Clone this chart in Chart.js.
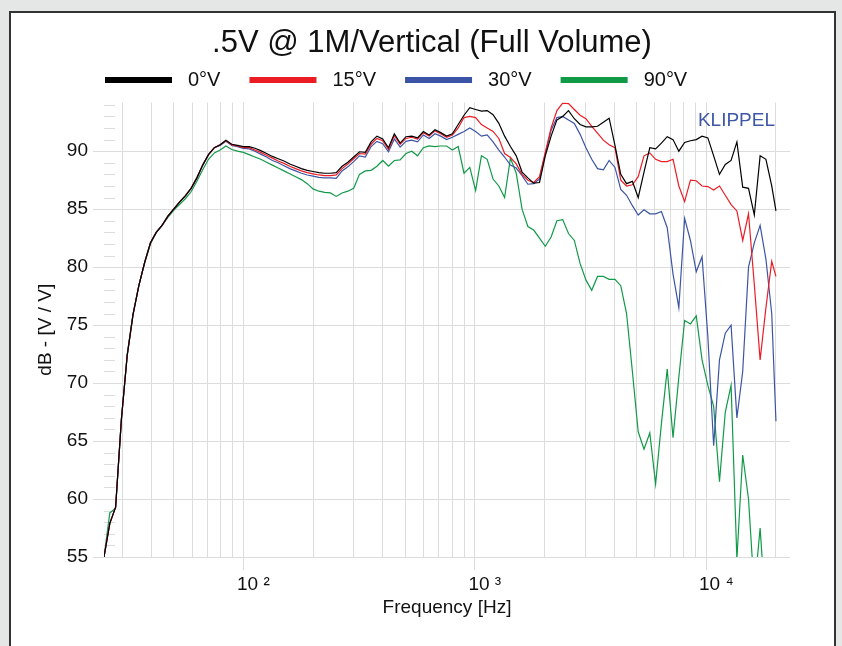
<!DOCTYPE html>
<html>
<head>
<meta charset="utf-8">
<script src="https://cdn.jsdelivr.net/npm/chart.js@4/dist/chart.umd.min.js"></script>
<style>
  html, body { margin: 0; padding: 0; }
  body { width: 842px; height: 646px; background: #e5e7e6; overflow: hidden; position: relative; }
  #frame { position: absolute; left: 9px; top: 11px; width: 823px; height: 660px; background: #fff; border: 2px solid #333; }
  #wrap { position: absolute; left: 0; top: 0; width: 842px; height: 646px; }
</style>
</head>
<body>
<div id="frame"></div>
<div id="wrap"><canvas id="fr-chart"></canvas></div>
<script>
// frequency points (Hz), 1/12 octave from 25 Hz
const freqs = [
  25.00, 26.49, 28.06, 29.73, 31.50, 33.37, 35.36, 37.46, 39.69, 42.04,
  44.55, 47.20, 50.00, 52.97, 56.12, 59.46, 63.00, 66.74, 70.71, 74.92,
  79.37, 84.09, 89.09, 94.39, 100.0, 105.9, 112.2, 118.9, 126.0, 133.5,
  141.4, 149.8, 158.7, 168.2, 178.2, 188.8, 200.0, 211.9, 224.5, 237.8,
  252.0, 267.0, 282.8, 299.7, 317.5, 336.4, 356.4, 377.6, 400.0, 423.8,
  449.0, 475.7, 504.0, 534.0, 565.7, 599.3, 635.0, 672.7, 712.7, 755.1,
  800.0, 847.6, 898.0, 951.4, 1008, 1068, 1131, 1199, 1270, 1345,
  1425, 1510, 1600, 1695, 1796, 1903, 2016, 2136, 2263, 2397,
  2540, 2691, 2851, 3020, 3200, 3390, 3592, 3805, 4032, 4271,
  4525, 4795, 5080, 5382, 5702, 6041, 6400, 6781, 7184, 7611,
  8063, 8543, 9051, 9589, 10159, 10763, 11404, 12082, 12800, 13561,
  14368, 15222, 16127, 17086, 18102, 19178, 20000
];

const resp0 = [
  55.0, 57.9, 59.3, 66.9, 72.4, 75.9, 78.4, 80.4, 82.1, 83.0,
  83.6, 84.4, 85.0, 85.6, 86.15, 86.8, 87.7, 88.8, 89.7, 90.3,
  90.55, 90.95, 90.6, 90.5, 90.4, 90.4, 90.25, 90.05, 89.8, 89.55,
  89.35, 89.15, 88.9, 88.7, 88.5, 88.35, 88.25, 88.15, 88.1, 88.1,
  88.15, 88.7, 89.05, 89.5, 89.95, 89.9, 90.8, 91.3, 91.05, 90.3,
  91.5, 90.7, 91.25, 91.3, 91.15, 91.7, 91.4, 91.85, 91.6, 91.3,
  91.5, 92.3, 93.1, 93.75, 93.6, 93.45, 93.5, 93.15, 92.4, 91.3,
  90.4, 89.6, 88.2, 87.7, 87.25, 87.3, 89.6, 91.3, 92.7, 93.0,
  93.5, 92.8, 92.3, 92.1, 92.1, 92.15, 92.5, 92.85, 90.5, 88.0,
  87.2, 87.4, 86.0, 88.2, 90.3, 90.2, 90.7, 91.25, 91.0, 90.0,
  90.75, 90.9, 91.0, 91.3, 91.15, 89.6, 88.0, 88.85, 89.2, 90.8,
  86.9, 86.8, 84.5, 89.6, 89.3, 87.0, 84.85
];

const resp15 = [
  55.0, 57.9, 59.3, 66.9, 72.4, 75.9, 78.4, 80.4, 82.1, 83.0,
  83.6, 84.4, 85.0, 85.6, 86.15, 86.8, 87.7, 88.8, 89.7, 90.3,
  90.55, 90.9, 90.55, 90.45, 90.3, 90.3, 90.1, 89.9, 89.65, 89.4,
  89.15, 88.95, 88.7, 88.5, 88.3, 88.15, 88.05, 87.95, 87.9, 87.9,
  87.95, 88.5, 88.9, 89.35, 89.8, 89.75, 90.6, 91.1, 90.9, 90.15,
  91.35, 90.6, 91.1, 91.2, 91.05, 91.6, 91.3, 91.75, 91.5, 91.2,
  91.4, 92.0, 92.9, 93.0, 92.9, 92.3, 92.0, 91.7, 91.1, 89.8,
  89.45, 88.9, 88.0, 87.5, 87.3, 87.8, 89.9, 92.0, 93.5, 94.15,
  94.1, 93.6, 93.1, 92.8, 92.15, 91.55, 90.95, 90.55, 90.3, 87.5,
  87.0, 87.1, 87.8, 89.6, 89.85, 89.3, 89.1, 89.1, 89.3, 87.0,
  85.65, 87.5, 87.45, 87.0, 86.95, 86.65, 87.0, 86.2, 85.4, 84.85,
  82.3, 84.6, 78.5, 72.0, 76.5, 80.5, 79.2
];

const resp30 = [
  55.0, 57.9, 59.3, 66.9, 72.4, 75.9, 78.4, 80.4, 82.1, 83.0,
  83.6, 84.4, 85.0, 85.6, 86.15, 86.8, 87.7, 88.8, 89.7, 90.3,
  90.5, 90.85, 90.5, 90.4, 90.25, 90.2, 90.0, 89.75, 89.5, 89.2,
  89.0, 88.75, 88.5, 88.3, 88.1, 87.95, 87.85, 87.75, 87.7, 87.7,
  87.65, 88.3, 88.65, 89.1, 89.6, 89.5, 90.4, 90.85, 90.65, 89.95,
  91.05, 90.35, 90.85, 90.95, 90.8, 91.4, 91.1, 91.5, 91.3, 91.0,
  91.2, 91.45, 91.7, 92.0, 91.7, 91.3, 91.4, 90.8, 90.1, 89.5,
  88.8, 88.55, 87.9, 87.15, 87.2, 87.6, 89.8, 91.8, 92.9, 93.0,
  92.7, 92.4, 91.45, 90.3, 89.3, 88.5, 88.4, 89.2, 88.6, 86.7,
  86.2, 85.3, 84.5, 84.95, 84.6, 84.6, 84.8, 83.4, 79.4, 76.5,
  84.2, 82.3, 79.6, 80.9, 74.0, 64.6, 72.0, 74.3, 75.0, 67.0,
  71.0, 80.0, 82.1, 83.6, 80.7, 76.0, 66.7
];

const resp90 = [
  55.0, 58.8, 59.2, 66.9, 72.5, 76.0, 78.4, 80.4, 82.0, 83.0,
  83.6, 84.3, 84.9, 85.4, 85.9, 86.5, 87.4, 88.4, 89.3, 89.85,
  90.1, 90.45, 90.15, 90.0, 89.9, 89.7, 89.5, 89.3, 89.05, 88.8,
  88.55, 88.3, 88.05, 87.8, 87.55, 87.2, 86.75, 86.55, 86.45, 86.4,
  86.1, 86.4, 86.55, 86.8, 88.0, 88.3, 88.35, 88.7, 89.2, 88.7,
  89.2, 89.25, 89.8, 90.0, 89.6, 90.3, 90.45, 90.4, 90.45, 90.45,
  90.1, 90.4, 88.1, 88.6, 86.6, 89.6, 89.3, 87.6, 87.0, 86.0,
  89.4, 88.1, 85.0, 83.5, 83.2, 82.5, 81.8, 82.6, 84.0, 84.1,
  82.9, 82.3, 80.3, 78.9, 78.0, 79.2, 79.2, 78.95, 78.95, 78.4,
  76.0, 71.0, 65.8, 64.3, 65.7, 61.3, 66.5, 71.2, 65.3, 70.5,
  75.4, 75.1, 75.8, 72.0, 69.8, 68.0, 61.5, 67.5, 69.8, 54.8,
  63.8, 60.0, 52.0, 57.5, 50.0, 48.0, 47.0
];

const seriesNames = ['0°V', '15°V', '30°V', '90°V'];
const seriesColors = ['#000000', '#ec1c24', '#3c54a5', '#109a48'];
const xGridTicks = [30, 40, 50, 60, 70, 80, 90, 100, 200, 300, 400, 500, 600, 700, 800, 900,
  1000, 2000, 3000, 4000, 5000, 6000, 7000, 8000, 9000, 10000, 20000];
const xTickLabels = {100: '10 ²', 1000: '10 ³', 10000: '10 ⁴'};
const yGridTicks = [55, 60, 65, 70, 75, 80, 85, 90];

const FONT = "'Liberation Sans', Arial, sans-serif";
Chart.defaults.font.family = FONT;
Chart.defaults.color = '#111';

function toPoints(values) {
  return freqs.map((f, i) => ({x: f, y: values[i]}));
}

const allSeries = [resp0, resp15, resp30, resp90];
const datasets = allSeries.map((vals, i) => ({
  label: seriesNames[i],
  data: toPoints(vals),
  borderColor: seriesColors[i],
  backgroundColor: seriesColors[i],
  borderWidth: 1.2,
  pointRadius: 0,
  tension: 0,
  yAxisID: 'y'
}));

// short minor ticks on the y axis, brand text and the legend row
const decorations = {
  id: 'decorations',
  beforeDatasetsDraw(chart) {
    const {ctx, chartArea, scales} = chart;
    const y = scales.y;
    ctx.save();
    ctx.strokeStyle = '#dcdcdc';
    ctx.lineWidth = 1;
    for (let v = 56; v < 95; v++) {
      if (v % 5 === 0) continue;
      const py = Math.round(y.getPixelForValue(v)) + 0.5;
      ctx.beginPath();
      ctx.moveTo(chartArea.left, py);
      ctx.lineTo(chartArea.left + 11, py);
      ctx.stroke();
    }
    ctx.fillStyle = '#3f57a6';
    ctx.font = '19px ' + FONT;
    ctx.textAlign = 'right';
    ctx.textBaseline = 'middle';
    ctx.fillText('KLIPPEL', chartArea.right - 15, chartArea.top + 18);
    ctx.restore();
  },
  afterDraw(chart) {
    const {ctx, chartArea} = chart;
    ctx.save();
    ctx.font = '20px ' + FONT;
    ctx.textBaseline = 'middle';
    ctx.textAlign = 'left';
    let x = chartArea.left + 1;
    const yMid = 80;
    chart.data.datasets.forEach(ds => {
      ctx.fillStyle = ds.borderColor;
      ctx.fillRect(x, yMid - 3, 67, 6);
      ctx.fillStyle = '#111';
      ctx.fillText(ds.label, x + 83, yMid);
      x += 83 + ctx.measureText(ds.label).width + 29;
    });
    ctx.restore();
  }
};

const canvas = document.getElementById('fr-chart').getContext('2d');
new Chart(canvas, {
  type: 'line',
  data: {datasets: datasets},
  options: {
    responsive: true,
    maintainAspectRatio: false,
    animation: false,
    layout: {padding: {left: 22, right: 0, top: 0, bottom: 0}},
    plugins: {
      title: {
        display: true,
        text: '.5V @ 1M/Vertical (Full Volume)',
        color: '#111',
        font: {size: 31, weight: 'normal'},
        padding: {top: 25, bottom: 40.3}
      },
      legend: {display: false},
      tooltip: {enabled: false}
    },
    scales: {
      x: {
        type: 'logarithmic',
        min: 25,
        max: 23000,
        afterBuildTicks: s => { s.ticks = xGridTicks.map(v => ({value: v})); },
        afterFit: s => { s.height = 89; },
        border: {display: false},
        grid: {
          color: '#dcdcdc',
          lineWidth: 1,
          tickLength: 13,
          tickColor: c => (xTickLabels[c.tick && c.tick.value] ? '#dcdcdc' : 'rgba(0,0,0,0)')
        },
        ticks: {
          autoSkip: false,
          maxRotation: 0,
          padding: 3,
          labelOffset: 10,
          font: {size: 19},
          callback: v => xTickLabels[v] || ''
        },
        title: {display: true, text: 'Frequency [Hz]', font: {size: 19}, padding: {top: 0, bottom: 27}}
      },
      y: {
        min: 55,
        max: 94.2,
        afterBuildTicks: s => { s.ticks = yGridTicks.map(v => ({value: v})); },
        afterFit: s => { s.width = 82; },
        border: {display: false},
        grid: {color: '#dcdcdc', lineWidth: 1, tickLength: 11},
        ticks: {padding: 5, font: {size: 19}},
        title: {display: true, text: 'dB - [V / V]', font: {size: 19}, padding: {top: 12, bottom: 0}}
      },
      y2: {
        position: 'right',
        display: true,
        border: {display: false},
        grid: {display: false},
        ticks: {display: false},
        afterFit: s => { s.width = 52; }
      }
    }
  },
  plugins: [decorations]
});
</script>
</body>
</html>
